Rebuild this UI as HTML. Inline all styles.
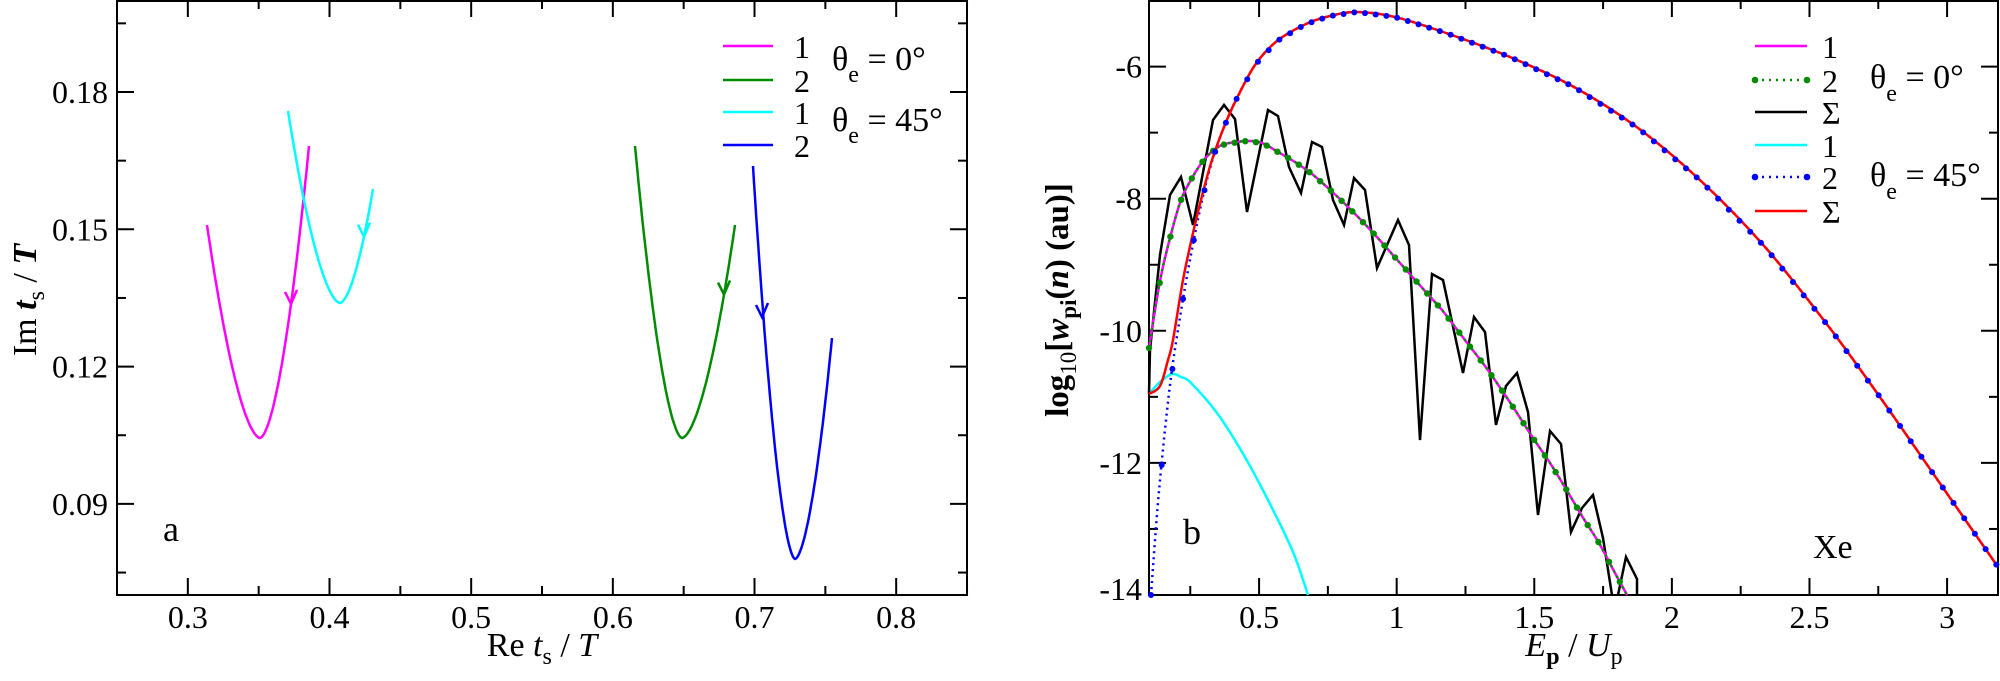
<!DOCTYPE html>
<html><head><meta charset="utf-8"><style>
html,body{margin:0;padding:0;background:#fff;}
svg{display:block;}
svg text{font-family:"Liberation Serif","Times New Roman","DejaVu Serif",serif !important;fill:#000;}
</style></head><body>
<svg id="s" width="2000" height="681" viewBox="0 0 2000 681" xmlns="http://www.w3.org/2000/svg" font-family="Liberation Serif, Times New Roman, DejaVu Serif, serif"></svg>
<script>
const S=document.getElementById('s');let h='';
function cr(p){let d='M'+p[0][0]+','+p[0][1];for(let i=0;i<p.length-1;i++){const p0=p[i-1]||p[i],p1=p[i],p2=p[i+1],p3=p[i+2]||p2;
d+=' C'+(p1[0]+(p2[0]-p0[0])/6).toFixed(1)+','+(p1[1]+(p2[1]-p0[1])/6).toFixed(1)+' '+(p2[0]-(p3[0]-p1[0])/6).toFixed(1)+','+(p2[1]-(p3[1]-p1[1])/6).toFixed(1)+' '+p2[0]+','+p2[1];}return d;}
function pl(p){return 'M'+p.map(q=>q[0]+','+q[1]).join(' L');}
function interp(p,x){for(let i=0;i<p.length-1;i++){if(x>=p[i][0]&&x<=p[i+1][0]){const t=(x-p[i][0])/(p[i+1][0]-p[i][0]||1);return p[i][1]+t*(p[i+1][1]-p[i][1]);}}return null;}
const F='font-family="Liberation Serif, Times New Roman, DejaVu Serif, serif"';
// ===== Left panel =====
const L0=117,L1=967,T=0,B=595;
h+=`<rect x="${L0}" y="${T+1}" width="${L1-L0}" height="${B-T-1}" fill="none" stroke="#000" stroke-width="2"/>`;
const lx=v=>117+(v-0.25)*1416.7, ly=v=>92+(0.18-v)*4576.7;
for(let k=0;k<=12;k++){const v=0.25+k*0.05,x=lx(v),maj=k%2==1;const len=maj?17:9;
h+=`<line x1="${x}" y1="${B}" x2="${x}" y2="${B-len}" stroke="#000" stroke-width="2"/><line x1="${x}" y1="${T}" x2="${x}" y2="${T+len}" stroke="#000" stroke-width="2"/>`;
if(maj)h+=`<text ${F} x="${x}" y="628" font-size="32" text-anchor="middle">${v.toFixed(1)}</text>`;}
for(let k=0;k<=8;k++){const v=0.075+k*0.015,y=ly(v);if(y<2||y>B-2)continue;const maj=Math.abs((v*1000)%30)<1||Math.abs((v*1000)%30-30)<1;const len=maj?17:9;
h+=`<line x1="${L0}" y1="${y}" x2="${L0+len}" y2="${y}" stroke="#000" stroke-width="2"/><line x1="${L1}" y1="${y}" x2="${L1-len}" y2="${y}" stroke="#000" stroke-width="2"/>`;
if(maj)h+=`<text ${F} x="108" y="${y+11}" font-size="32" text-anchor="end">${v.toFixed(2)}</text>`;}
h+=`<text ${F} x="542" y="656" font-size="34" text-anchor="middle">Re <tspan font-style="italic">t</tspan><tspan font-size="24" dy="8">s</tspan><tspan dy="-8"> / </tspan><tspan font-style="italic">T</tspan></text>`;
h+=`<text ${F} transform="translate(36,300) rotate(-90)" font-size="34" text-anchor="middle">Im <tspan font-style="italic" font-weight="bold">t</tspan><tspan font-size="24" dy="8">s</tspan><tspan dy="-8"> / </tspan><tspan font-style="italic" font-weight="bold">T</tspan></text>`;
h+=`<text ${F} x="163" y="541" font-size="36">a</text>`;
function vcurve(s,m,e,col,arr){let p=[];const n=40;
for(let i=0;i<=n;i++){const t=i/n;const x=s[0]+(m[0]-s[0])*t;const u=1-t;p.push([x,m[1]-(m[1]-s[1])*Math.pow(u,1.7)]);}
for(let i=1;i<=n;i++){const t=i/n;const x=m[0]+(e[0]-m[0])*t;p.push([x,m[1]-(m[1]-e[1])*Math.pow(t,1.7)]);}
h+=`<path d="${pl(p.map(q=>[q[0].toFixed(1),q[1].toFixed(1)]))}" fill="none" stroke="${col}" stroke-width="2.5"/>`;
const ax=arr[0],ay=interp(p.slice(n),ax)??arr[1];
h+=`<path d="M${ax-6},${ay-12} L${ax},${ay} L${ax+6},${ay-14}" fill="none" stroke="${col}" stroke-width="2.5"/>`;}
vcurve([207,225],[260,438],[309,146],'#ff00ff',[291,296]);
vcurve([288,111],[340,303],[373,189],'#00ffff',[364,241]);
vcurve([635,146],[682,438],[735,225],'#008b00',[724,300]);
vcurve([753,166],[795,559],[832,338],'#0000ff',[762,317]);
const lg=[[46,'#ff00ff','1'],[80,'#008b00','2'],[112,'#00ffff','1'],[145,'#0000ff','2']];
lg.forEach(([y,c,t])=>{h+=`<line x1="723" y1="${y}" x2="773" y2="${y}" stroke="${c}" stroke-width="2.5"/><text ${F} x="794" y="${y+12}" font-size="32">${t}</text>`;});
h+=`<text ${F} x="832" y="70" font-size="34">θ<tspan font-size="24" dy="12">e</tspan><tspan dy="-12"> = 0°</tspan></text>`;
h+=`<text ${F} x="832" y="131" font-size="34">θ<tspan font-size="24" dy="12">e</tspan><tspan dy="-12"> = 45°</tspan></text>`;
// ===== Right panel =====
const R0=1149,R1=1998;
const ex=v=>1149+(v-0.1)*275.2, ey=v=>595-(v+14)*66.05;
h+=`<rect x="${R0}" y="${T+1}" width="${R1-R0}" height="${B-T-1}" fill="none" stroke="#000" stroke-width="2"/>`;
for(let k=1;k<=12;k++){const v=k*0.25,x=ex(v),maj=k%2==0;const len=maj?17:9;
h+=`<line x1="${x}" y1="${B}" x2="${x}" y2="${B-len}" stroke="#000" stroke-width="2"/><line x1="${x}" y1="${T}" x2="${x}" y2="${T+len}" stroke="#000" stroke-width="2"/>`;
if(maj)h+=`<text ${F} x="${x}" y="628" font-size="32" text-anchor="middle">${v}</text>`;}
for(let v=-14;v<=-5;v++){const y=ey(v),maj=v%2==0;const len=maj?17:9;
if(y>2&&y<B-2)h+=`<line x1="${R0}" y1="${y}" x2="${R0+len}" y2="${y}" stroke="#000" stroke-width="2"/><line x1="${R1}" y1="${y}" x2="${R1-len}" y2="${y}" stroke="#000" stroke-width="2"/>`;
if(maj)h+=`<text ${F} x="1142" y="${Math.min(y+11,600)}" font-size="32" text-anchor="end">${v}</text>`;}
h+=`<text ${F} x="1574" y="656" font-size="34" text-anchor="middle"><tspan font-style="italic">E</tspan><tspan font-size="24" dy="8" font-weight="bold">p</tspan><tspan dy="-8"> / </tspan><tspan font-style="italic">U</tspan><tspan font-size="24" dy="8">p</tspan></text>`;
h+=`<text ${F} transform="translate(1068,300) rotate(-90)" font-size="33" text-anchor="middle" font-weight="bold">log<tspan font-size="23" dy="8" font-weight="normal">10</tspan><tspan dy="-8">[</tspan><tspan font-style="italic">w</tspan><tspan font-size="23" dy="8">pi</tspan><tspan dy="-8">(</tspan><tspan font-style="italic">n</tspan>) (au)]</text>`;
h+=`<text ${F} x="1183" y="544" font-size="36">b</text><text ${F} x="1813" y="558" font-size="34">Xe</text>`;
const cy=[[1149,394],[1160,382],[1172,374],[1181,377],[1191,383],[1217,413],[1242,452],[1268,500],[1293,552],[1308,595]];
h+=`<path d="${cr(cy)}" fill="none" stroke="#00ffff" stroke-width="2.5"/>`;
const gm=[[1149,348],[1160,281],[1170,238],[1181,200],[1192,178],[1203,161],[1214,150],[1225,144],[1247,141],[1262,143],[1278,152],[1295,162],[1312,174],[1328,188],[1344,203],[1360,219],[1376,236],[1392,254],[1408,272],[1425,291],[1442,310],[1452,323],[1468,344],[1485,366],[1501,389],[1517,413],[1533,438],[1550,463],[1566,489],[1582,516],[1599,543],[1615,573],[1627,595]];
const rd=[[1149,394],[1160,386],[1168,360],[1173,340],[1183,280],[1193,233],[1203,192],[1212,160],[1224,127],[1236,100],[1255,65],[1277,41],[1306,24],[1330,16],[1357,12],[1395,17],[1446,33],[1510,57],[1574,87],[1638,128],[1701,181],[1765,247],[1829,327],[1882,400],[1939,482],[1998,567]];
const bl=[[1151,595],[1159,491],[1170,385],[1182,305],[1193,244],[1203,196],[1213,158],[1224,127],[1236,100]].concat(rd.slice(10));
const bk=[[1149,394],[1150,350],[1160,255],[1170,195],[1181,177],[1193,225],[1213,120],[1224,105],[1235,119],[1247,212],[1268,110],[1278,116],[1289,167],[1301,193],[1312,142],[1322,147],[1333,200],[1344,225],[1354,178],[1365,190],[1377,268],[1398,220],[1409,245],[1420,440],[1432,274],[1443,280],[1463,373],[1474,317],[1485,332],[1496,425],[1506,386],[1517,373],[1528,412],[1538,515],[1550,431],[1561,444],[1571,532],[1582,508],[1593,495],[1603,538],[1612,595]];
const bk2=[[1618,595],[1626,557],[1637,579],[1637,595]];
h+=`<path d="${pl(bk)}" fill="none" stroke="#000" stroke-width="2.5" stroke-linejoin="miter"/><path d="${pl(bk2)}" fill="none" stroke="#000" stroke-width="2.5"/>`;
h+=`<path d="${cr(gm)}" fill="none" stroke="#ff00ff" stroke-width="2.5"/>`;
h+=`<path d="${cr(gm)}" fill="none" stroke="#008b00" stroke-width="2.5" stroke-dasharray="2,4"/>`;
for(let x=1149;x<=1627;x+=10.7){const y=interp(gm,x);if(y!=null&&y<=595)h+=`<circle cx="${x.toFixed(1)}" cy="${y.toFixed(1)}" r="3.2" fill="#008b00"/>`;}
h+=`<path d="${cr(bl)}" fill="none" stroke="#0000ff" stroke-width="2.5" stroke-dasharray="2,4"/>`;
h+=`<path d="${cr(rd)}" fill="none" stroke="#ff0000" stroke-width="2.5"/>`;
for(let x=1151;x<=1998;x+=10.7){const y=interp(bl,x);if(y!=null&&y<=595)h+=`<circle cx="${x.toFixed(1)}" cy="${y.toFixed(1)}" r="3" fill="#0000ff"/>`;}
const rl=[[46,'#ff00ff','1','s'],[80,'#008b00','2','g'],[112,'#000','Σ','s'],[145,'#00ffff','1','s'],[177,'#0000ff','2','b'],[211,'#ff0000','Σ','s']];
rl.forEach(([y,c,t,k])=>{if(k=='s')h+=`<line x1="1755" y1="${y}" x2="1807" y2="${y}" stroke="${c}" stroke-width="2.5"/>`;
else{h+=`<line x1="1755" y1="${y}" x2="1807" y2="${y}" stroke="${c}" stroke-width="2.5" stroke-dasharray="2,5"/><circle cx="1755" cy="${y}" r="3.3" fill="${c}"/><circle cx="1807" cy="${y}" r="3.3" fill="${c}"/>`;}
h+=`<text ${F} x="1822" y="${y+12}" font-size="32">${t}</text>`;});
h+=`<text ${F} x="1870" y="88" font-size="34">θ<tspan font-size="24" dy="13">e</tspan><tspan dy="-13"> = 0°</tspan></text>`;
h+=`<text ${F} x="1870" y="186" font-size="34">θ<tspan font-size="24" dy="13">e</tspan><tspan dy="-13"> = 45°</tspan></text>`;
S.innerHTML=h;
</script>
</body></html>
